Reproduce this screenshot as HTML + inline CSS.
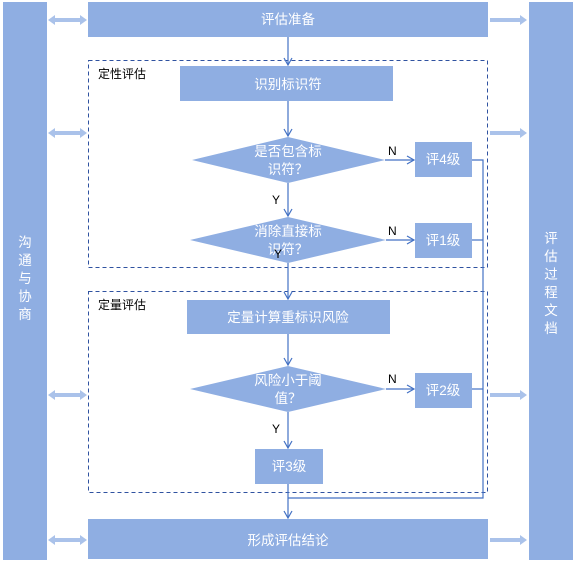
<!DOCTYPE html><html><head><meta charset="utf-8"><style>body{margin:0;background:#fff}svg{display:block}text{font-family:"Liberation Sans","Noto Sans CJK SC",sans-serif}</style></head><body>
<svg width="576" height="563" viewBox="0 0 576 563">
<defs>
<marker id="a" markerWidth="10" markerHeight="10" refX="8" refY="5" orient="auto" markerUnits="userSpaceOnUse"><path d="M1,1 L8,5 L1,9" fill="none" stroke="#4472c4" stroke-width="1.2"/></marker>
</defs>
<g fill="#8faee2">
<rect x="3" y="2" width="44" height="558"/>
<rect x="529" y="2" width="44" height="558"/>
<rect x="88" y="2" width="400" height="35"/>
<rect x="88" y="519" width="400" height="40"/>
<rect x="180" y="66" width="213" height="35"/>
<rect x="187" y="300" width="203" height="34"/>
<rect x="415" y="142" width="57" height="35"/>
<rect x="415" y="223" width="57" height="35"/>
<rect x="415" y="373" width="57" height="35"/>
<rect x="255" y="449" width="68" height="35"/>
<polygon points="192,160 288,137 385,160 288,183"/>
<polygon points="190,240 288,217 386,240 288,263"/>
<polygon points="190,389 288,366 386,389 288,412"/>
</g>
<g fill="#aac2ea">
<g id="dl"><polygon points="48,20 55,15 55,18 80,18 80,15 87,20 80,25 80,22 55,22 55,25"/></g>
<use href="#dl" y="113"/><use href="#dl" y="375"/><use href="#dl" y="520"/>
<g id="dr"><polygon points="490,18 520,18 520,15 527,20 520,25 520,22 490,22"/></g>
<use href="#dr" y="113"/><use href="#dr" y="375"/><use href="#dr" y="520"/>
</g>
<g fill="none" stroke="#2f52a0" stroke-width="1" stroke-dasharray="4,3">
<rect x="88.5" y="60.5" width="399" height="207"/>
<rect x="88.5" y="291.5" width="399" height="201"/>
</g>
<g stroke="#4472c4" stroke-width="1.2" fill="none">
<line x1="288" y1="37" x2="288" y2="65" marker-end="url(#a)"/>
<line x1="288" y1="101" x2="288" y2="136" marker-end="url(#a)"/>
<line x1="288" y1="183" x2="288" y2="216" marker-end="url(#a)"/>
<line x1="288" y1="263" x2="288" y2="299" marker-end="url(#a)"/>
<line x1="288" y1="334" x2="288" y2="365" marker-end="url(#a)"/>
<line x1="288" y1="412" x2="288" y2="448" marker-end="url(#a)"/>
<line x1="288" y1="484" x2="288" y2="518" marker-end="url(#a)"/>
<line x1="385" y1="160" x2="414" y2="160" marker-end="url(#a)"/>
<line x1="386" y1="240" x2="414" y2="240" marker-end="url(#a)"/>
<line x1="386" y1="389" x2="414" y2="389" marker-end="url(#a)"/>
<polyline points="472,160 483,160 483,498 288,498"/>
<line x1="472" y1="240" x2="483" y2="240"/>
<line x1="472" y1="389" x2="483" y2="389"/>
</g>
<g fill="#fff" font-size="13.5" text-anchor="middle">
<text x="288" y="24">评估准备</text>
<text x="288" y="89">识别标识符</text>
<text x="288" y="322">定量计算重标识风险</text>
<text x="288" y="545">形成评估结论</text>
<text x="443" y="164">评4级</text>
<text x="443" y="245">评1级</text>
<text x="443" y="395">评2级</text>
<text x="289" y="471">评3级</text>
<text x="288" y="156">是否包含标</text><text x="288" y="174">识符？</text>
<text x="288" y="236">消除直接标</text><text x="288" y="254">识符？</text>
<text x="288" y="385">风险小于阈</text><text x="288" y="403">值？</text>
<text x="25" y="247">沟</text><text x="25" y="265">通</text><text x="25" y="283">与</text><text x="25" y="301">协</text><text x="25" y="319">商</text>
<text x="551" y="243">评</text><text x="551" y="261">估</text><text x="551" y="279">过</text><text x="551" y="297">程</text><text x="551" y="315">文</text><text x="551" y="333">档</text>
</g>
<g fill="#000" font-size="12">
<text x="98" y="78">定性评估</text>
<text x="98" y="309">定量评估</text>
<text x="388" y="155">N</text><text x="388" y="235">N</text><text x="388" y="383">N</text>
<text x="272" y="204">Y</text><text x="274" y="258">Y</text><text x="272" y="433">Y</text>
</g>
</svg></body></html>
